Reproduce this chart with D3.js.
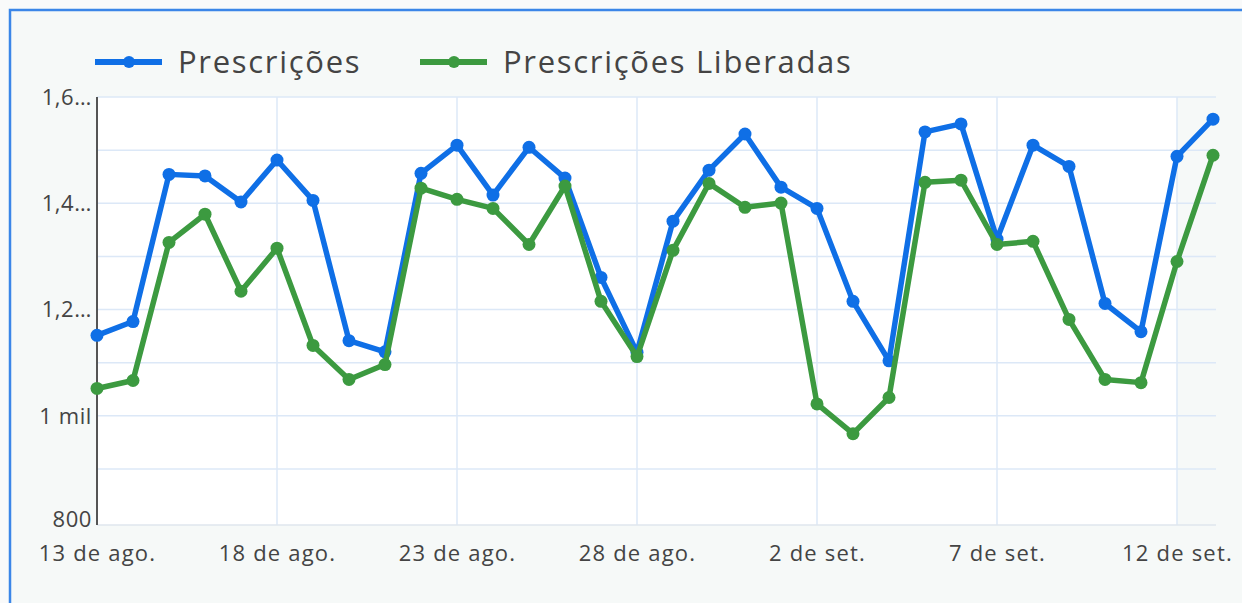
<!DOCTYPE html>
<html>
<head>
<meta charset="utf-8">
<script src="https://cdn.jsdelivr.net/npm/d3@7"></script>
<style>
  body { margin: 0; background: #f7f9f9; }
  svg { display: block; }
  text { font-family: "Open Sans", sans-serif; fill: #444; }
</style>
</head>
<body>
<svg id="chart" width="1242" height="603"></svg>
<script>
// daily values, 13 ago -> 13 set
var startDate = new Date(2021, 7, 13);
var prescricoes = [1157, 1183, 1460, 1457, 1408, 1487, 1411, 1147, 1126, 1462, 1515, 1421, 1511, 1453, 1266, 1125,
                   1372, 1468, 1536, 1436, 1396, 1221, 1109, 1540, 1555, 1338, 1515, 1475, 1217, 1164, 1494, 1564];
var liberadas   = [1057, 1072, 1332, 1385, 1240, 1321, 1138, 1074, 1102, 1434, 1413, 1396, 1328, 1438, 1221, 1117,
                   1317, 1443, 1398, 1406, 1028, 972, 1040, 1445, 1449, 1328, 1334, 1187, 1074, 1068, 1296, 1496];
var yTicks = [800, 1000, 1200, 1400, 1600];
var yTickLabels = ["800", "1 mil", "1,2…", "1,4…", "1,6…"];
var yGrid = [900, 1000, 1100, 1200, 1300, 1400, 1500, 1600];
var xTickLabels = ["13 de ago.", "18 de ago.", "23 de ago.", "28 de ago.", "2 de set.", "7 de set.", "12 de set."];
var seriesNames = ["Prescrições", "Prescrições Liberadas"];
var colors = ["#0f6fe6", "#3c9a40"];

var dates = prescricoes.map(function(d, i) { return d3.timeDay.offset(startDate, i); });
var xTickDates = xTickLabels.map(function(d, i) { return d3.timeDay.offset(startDate, i * 5); });

var svg = d3.select("#chart");
var plotLeft = 97, plotRight = 1213, plotTop = 100, plotBottom = 525;

// card
svg.append("rect").attr("x", 0).attr("y", 0).attr("width", 1242).attr("height", 603).attr("fill", "#f9fafa");
svg.append("rect").attr("x", 10).attr("y", 10).attr("width", 1250).attr("height", 620)
  .attr("fill", "#f6f9f8").attr("stroke", "#3b86e8").attr("stroke-width", 2.5);

var x = d3.scaleTime().domain([startDate, dates[dates.length - 1]]).range([plotLeft, plotRight]);
var y = d3.scaleLinear().domain([800, 1600]).range([plotBottom, plotTop]);

// plot background (white up to last labelled tick)
svg.append("rect").attr("x", plotLeft).attr("y", plotTop - 3)
  .attr("width", x(xTickDates[xTickDates.length - 1]) - plotLeft).attr("height", plotBottom - plotTop + 3)
  .attr("fill", "#ffffff");

var grid = svg.append("g").attr("stroke", "#dce8f7").attr("stroke-width", 1.5);
grid.selectAll("line.h").data(yGrid).enter().append("line")
  .attr("x1", plotLeft).attr("x2", plotRight + 3)
  .attr("y1", function(d) { return y(d) - 3; }).attr("y2", function(d) { return y(d) - 3; });
grid.selectAll("line.v").data(xTickDates).enter().append("line")
  .attr("x1", function(d) { return x(d); }).attr("x2", function(d) { return x(d); })
  .attr("y1", plotTop - 3).attr("y2", plotBottom);
svg.append("line").attr("x1", plotLeft).attr("x2", plotRight + 3).attr("y1", plotBottom).attr("y2", plotBottom)
  .attr("stroke", "#dfe6ee").attr("stroke-width", 1.5);

// y axis
var yAxis = svg.append("g").attr("transform", "translate(" + plotLeft + ",0)")
  .call(d3.axisLeft(y).tickValues(yTicks).tickSize(0).tickPadding(5)
    .tickFormat(function(d, i) { return yTickLabels[i]; }));
yAxis.select(".domain").attr("stroke", "#555").attr("stroke-width", 2).attr("d", "M0," + (plotTop - 3) + "V" + plotBottom);
yAxis.selectAll("text").style("font-size", "22px").style("letter-spacing", "0.6px").attr("fill", "#444")
  .attr("dy", function(d) { return d === 800 ? "0.05em" : "0.2em"; });

// x axis
var xAxis = svg.append("g").attr("transform", "translate(0," + plotBottom + ")")
  .call(d3.axisBottom(x).tickValues(xTickDates).tickSize(0).tickPadding(20)
    .tickFormat(function(d, i) { return xTickLabels[i]; }));
xAxis.select(".domain").remove();
xAxis.selectAll("text").style("font-size", "22px").style("letter-spacing", "1.2px").attr("fill", "#444");

// series
var line = d3.line().x(function(d, i) { return x(dates[i]); }).y(function(d) { return y(d); });
[prescricoes, liberadas].forEach(function(s, k) {
  var g = svg.append("g");
  g.append("path").datum(s).attr("d", line).attr("fill", "none")
    .attr("stroke", colors[k]).attr("stroke-width", 5.5).attr("stroke-linejoin", "round");
  g.selectAll("circle").data(s).enter().append("circle")
    .attr("cx", function(d, i) { return x(dates[i]); }).attr("cy", function(d) { return y(d); })
    .attr("r", 6.5).attr("fill", colors[k]);
});

// legend
var legendX = [95, 420];
seriesNames.forEach(function(name, k) {
  var g = svg.append("g").attr("transform", "translate(" + legendX[k] + ",62)");
  g.append("line").attr("x1", 0).attr("x2", 67).attr("stroke", colors[k]).attr("stroke-width", 6);
  g.append("circle").attr("cx", 34).attr("r", 6).attr("fill", colors[k]);
  g.append("text").attr("x", 83).attr("dy", "0.35em").style("font-size", "31px")
    .style("letter-spacing", "1.7px").attr("fill", "#444").text(name);
});
</script>
</body>
</html>
